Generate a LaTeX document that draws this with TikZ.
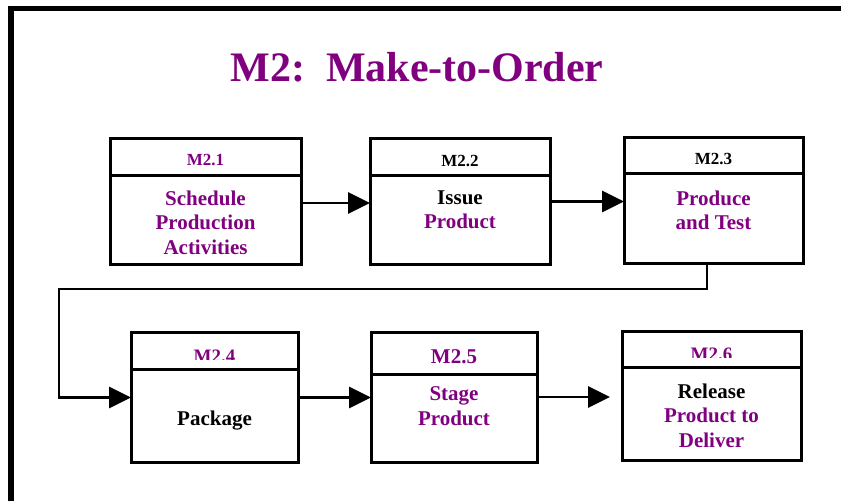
\documentclass[tikz,border=0pt]{standalone}
\usepackage{fontspec}
\setmainfont{Liberation Serif}
\usepackage{tikz}
\usetikzlibrary{arrows.meta}
\definecolor{plum}{RGB}{128,0,128}

\tikzset{
  cell/.style={draw, line width=3pt, inner sep=0pt, outer sep=0pt, anchor=north west},
  idtag/.style={font=\fontsize{17}{19}\selectfont\bfseries, anchor=base, inner sep=0pt},
  steptext/.style={font=\fontsize{21}{24.5}\selectfont\bfseries, align=center, anchor=north, inner sep=0pt},
  flow/.style={->, line width=2.8pt},
}

\begin{document}
\begin{tikzpicture}[x=1pt, y=-1pt, >={Triangle[length=22pt,width=21pt]}]
  \useasboundingbox (0,0) rectangle (841,501);
  % frame on top and left
  \draw[line width=5.7pt, line join=miter] (11.2,501) -- (11.2,8.5) -- (841,8.5);
  \node[font=\fontsize{42}{48}\selectfont\bfseries, text=plum, anchor=base] (title) at (417,81) {M2:\ \ Make-to-Order};

  % step boxes: header strip + body
  \foreach \n/\x/\w/\y/\hh/\bh in {1/110/191/138/37/89, 2/370/180/138/37/89, 3/624/179/137/36/90,
                                   4/131/167/332/37/93, 5/371/166/332/42/88, 6/622/179/331/36/93}{
     \node[cell, minimum width=\w pt, minimum height=\hh pt] (h\n) at (\x,\y) {};
     \node[cell, minimum width=\w pt, minimum height=\bh pt] (b\n) at (h\n.south west) {};
  }

  % step numbers
  \node[idtag, text=plum] (n1) at (205.5,165) {M2.1};
  \node[idtag] (n2) at (460,166) {M2.2};
  \node[idtag] (n3) at (713.5,164) {M2.3};
  \begin{scope}
    \clip (131,332) rectangle (298,359.5);
    \node[idtag, text=plum, font=\fontsize{19}{21}\selectfont\bfseries] (n4) at (214.5,362) {M2.4};
  \end{scope}
  \node[idtag, text=plum, font=\fontsize{21}{24}\selectfont\bfseries] (n5) at (454,363) {M2.5};
  \begin{scope}
    \clip (622,331) rectangle (801,357);
    \node[idtag, text=plum, font=\fontsize{19}{21}\selectfont\bfseries] (n6) at (711.5,360) {M2.6};
  \end{scope}

  % step names
  \node[steptext, text=plum] (t1) at (205.5,190.5) {Schedule\\Production\\Activities};
  \node[steptext] (t2) at (460,190.5) {Issue\\{\color{plum}Product}};
  \node[steptext, text=plum] (t3) at (713.5,190.5) {Produce\\and Test};
  \node[steptext] (t4) at (214.5,410.5) {Package};
  \node[steptext, text=plum] (t5) at (454,386.5) {Stage\\Product};
  \node[steptext] (t6) at (711.5,383.5) {Release\\{\color{plum}Product to}\\{\color{plum}Deliver}};

  % flow between steps
  \coordinate (bend) at (59,289);
  \draw[flow] ([yshift=16.5pt]b1.east) -- ([yshift=16.5pt]b1.east -| b2.west);
  \draw[flow] ([yshift=18pt]b2.east) -- ([yshift=18pt]b2.east -| b3.west);
  \draw[flow] ([xshift=-6.5pt]b3.south) |- (bend) |- ([yshift=18pt]b4.west);
  \draw[flow] ([yshift=18pt]b4.east) -- ([yshift=18pt]b4.east -| b5.west);
  \draw[flow, shorten >=12pt] ([yshift=21pt]b5.east) -- ([yshift=21pt]b5.east -| b6.west);
\end{tikzpicture}
\end{document}
